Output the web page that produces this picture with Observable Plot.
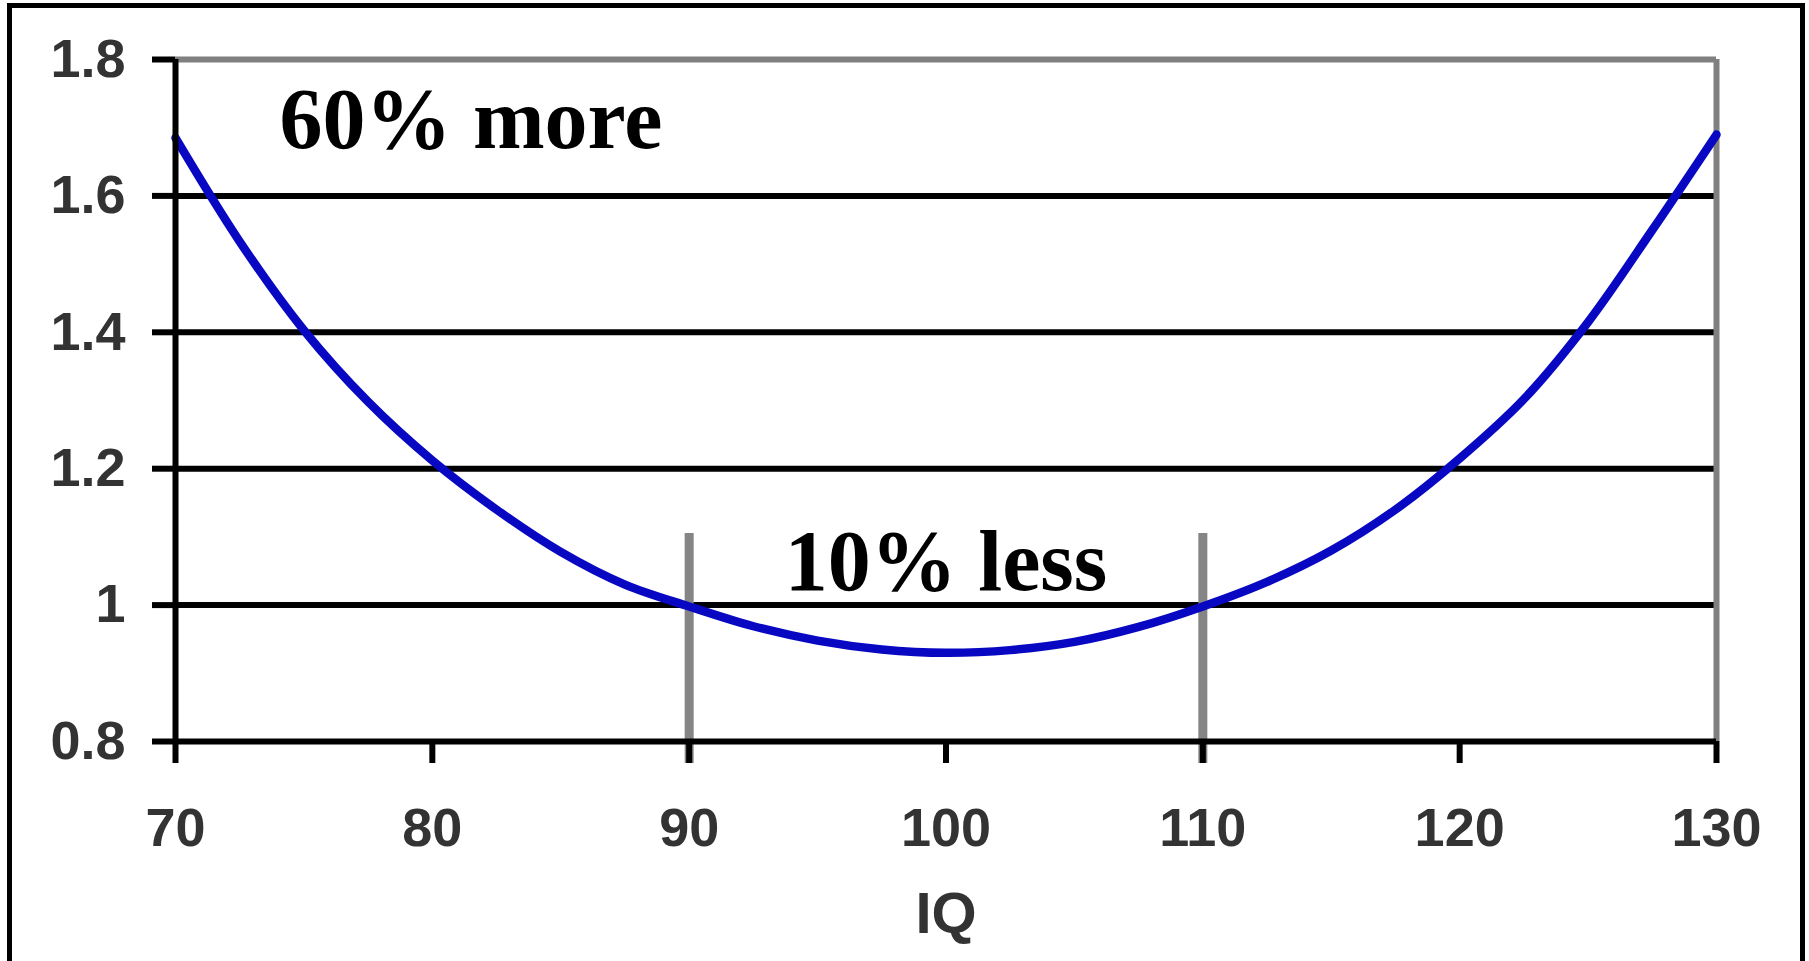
<!DOCTYPE html>
<html><head><meta charset="utf-8">
<script src="https://cdn.jsdelivr.net/npm/d3@7"></script>
<script src="https://cdn.jsdelivr.net/npm/@observablehq/plot@0.6"></script>
<style>
html,body{margin:0;padding:0;background:#fff;overflow:hidden;width:1809px;height:961px;}
#chart{position:absolute;left:0;top:0;}
#border{position:absolute;left:7px;top:3px;width:1788px;height:953px;border:5px solid #000;border-bottom:none;box-sizing:content-box;pointer-events:none;}
</style></head><body>
<div id="chart"></div><div id="border"></div>
<script>
// Data
const iq = [70,72.5,75,77.5,80,82.5,85,87.5,90,92.5,95,97.5,100,102.5,105,107.5,110,112.5,115,117.5,120,122.5,125,127.5,130];
const risk = [1.685,1.533,1.403,1.298,1.212,1.140,1.078,1.030,0.998,0.969,0.948,0.935,0.930,0.934,0.946,0.968,0.998,1.034,1.080,1.140,1.215,1.302,1.415,1.550,1.690];
const xTicks = [70,80,90,100,110,120,130];
const yTicks = [0.8,1,1.2,1.4,1.6,1.8];
const yTickLabels = ["0.8","1","1.2","1.4","1.6","1.8"];
const xLabel = "IQ";
const markerIQ = [90,110];
const markerTop = 1.105;
const notes = ["60% more","10% less"];
const noteIQ = [81.5,100];
const noteRisk = [1.711,1.063];

const data = iq.map((x,i)=>({iq:x, risk:risk[i]}));
const plot = Plot.plot({
  width:1809, height:961,
  marginLeft:175, marginRight:93, marginTop:59, marginBottom:220,
  style:{background:"#fff", fontFamily:"'Liberation Sans', Arial, sans-serif", overflow:"visible"},
  x:{domain:[70,130]},
  y:{domain:[0.8,1.8]},
  marks:[
    Plot.ruleY(yTicks.filter(d=>d>0.8 && d<1.8), {stroke:"#000", strokeWidth:6}),
    Plot.ruleY([1.8], {stroke:"#808080", strokeWidth:6}),
    Plot.ruleX([130], {stroke:"#808080", strokeWidth:6}),
    Plot.ruleX(markerIQ, {y1:markerTop, y2:0.8, stroke:"#858585", strokeWidth:9, insetBottom:-22}),
    Plot.line(data, {x:"iq", y:"risk", stroke:"#0808c2", strokeWidth:8.5, curve:"catmull-rom"}),
    Plot.ruleX([70], {stroke:"#000", strokeWidth:6}),
    Plot.ruleY([0.8], {stroke:"#000", strokeWidth:6}),
    Plot.axisX({ticks:xTicks, tickSize:22, tickPadding:44, fontSize:54, fontWeight:"bold", color:"#000", fill:"#333", strokeWidth:6, label:null}),
    Plot.axisY({ticks:yTicks, tickFormat:d=>yTickLabels[yTicks.indexOf(d)], tickSize:23, tickPadding:27, fontSize:54, fontWeight:"bold", color:"#000", fill:"#333", strokeWidth:6, label:null}),
    Plot.text([xLabel], {frameAnchor:"bottom", dy:173, fontSize:58, fontWeight:"bold", fill:"#333", lineAnchor:"middle"}),
    Plot.text(notes, {x:noteIQ, y:noteRisk, textAnchor:"middle", lineAnchor:"middle", fontFamily:"'Liberation Serif', 'Times New Roman', serif", fontWeight:"bold", fontSize:86, fill:"#000"})
  ]
});
document.getElementById("chart").appendChild(plot);
</script>
</body></html>
